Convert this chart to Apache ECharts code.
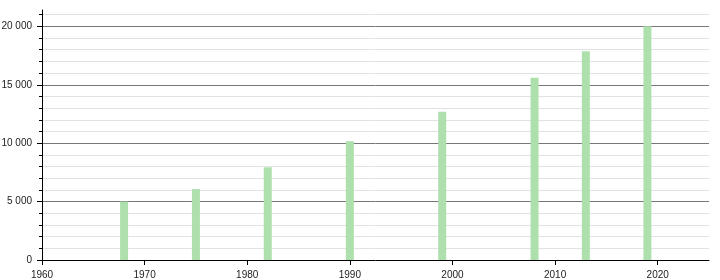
<!DOCTYPE html>
<html>
<head>
<meta charset="utf-8">
<script src="https://cdn.jsdelivr.net/npm/echarts@6/dist/echarts.min.js"></script>
<style>
html,body{margin:0;padding:0;background:#fff;}
#c{width:720px;height:280px;}
</style>
</head>
<body>
<div id="c"></div>
<script>
const years = [1968, 1975, 1982, 1990, 1999, 2008, 2013, 2019];
const values = [5000, 6070, 7950, 10170, 12700, 15600, 17860, 20000];
const xTicks = [1960, 1970, 1980, 1990, 2000, 2010, 2020];
const yTicks = [0, 5000, 10000, 15000, 20000];

function fmt(v) {
  return String(v).replace(/\B(?=(\d{3})+(?!\d))/g, ' ');
}

const chart = echarts.init(document.getElementById('c'), null, {renderer: 'canvas'});
chart.setOption({
  animation: false,
  backgroundColor: '#fff',
  textStyle: {fontFamily: 'Liberation Sans, Arial, sans-serif'},
  grid: {left: 42, right: 11, top: 10, bottom: 20, containLabel: false, outerBoundsMode: 'none'},
  xAxis: {
    type: 'value',
    min: 1960,
    max: 2025,
    interval: 10,
    axisLine: {show: true, lineStyle: {color: '#000', width: 1}},
    axisTick: {show: true, length: 5, lineStyle: {color: '#000'}, customValues: xTicks},
    axisLabel: {
      customValues: xTicks,
      color: '#222', fontSize: 10, margin: 10,
      fontFamily: 'Liberation Sans, Arial, sans-serif',
      formatter: v => String(v)
    },
    splitLine: {show: false}
  },
  yAxis: {
    type: 'value',
    min: 0,
    max: 21400,
    interval: 5000,
    axisLine: {show: true, lineStyle: {color: '#000', width: 1}},
    axisTick: {show: true, length: 5, lineStyle: {color: '#000'}, customValues: yTicks},
    minorTick: {show: true, splitNumber: 5, length: 3, lineStyle: {color: '#000'}},
    axisLabel: {
      customValues: yTicks,
      color: '#222', fontSize: 10, margin: 10,
      fontFamily: 'Liberation Sans, Arial, sans-serif',
      formatter: v => fmt(v)
    },
    splitLine: {show: true, showMinLine: false, showMaxLine: true, lineStyle: {color: '#777', width: 1}},
    minorSplitLine: {show: true, lineStyle: {color: '#e2e2e2', width: 1}}
  },
  series: [{
    type: 'bar',
    barWidth: 8,
    itemStyle: {color: '#aee0ad'},
    data: years.map((y, i) => [y, values[i]])
  }]
});
</script>
</body>
</html>
